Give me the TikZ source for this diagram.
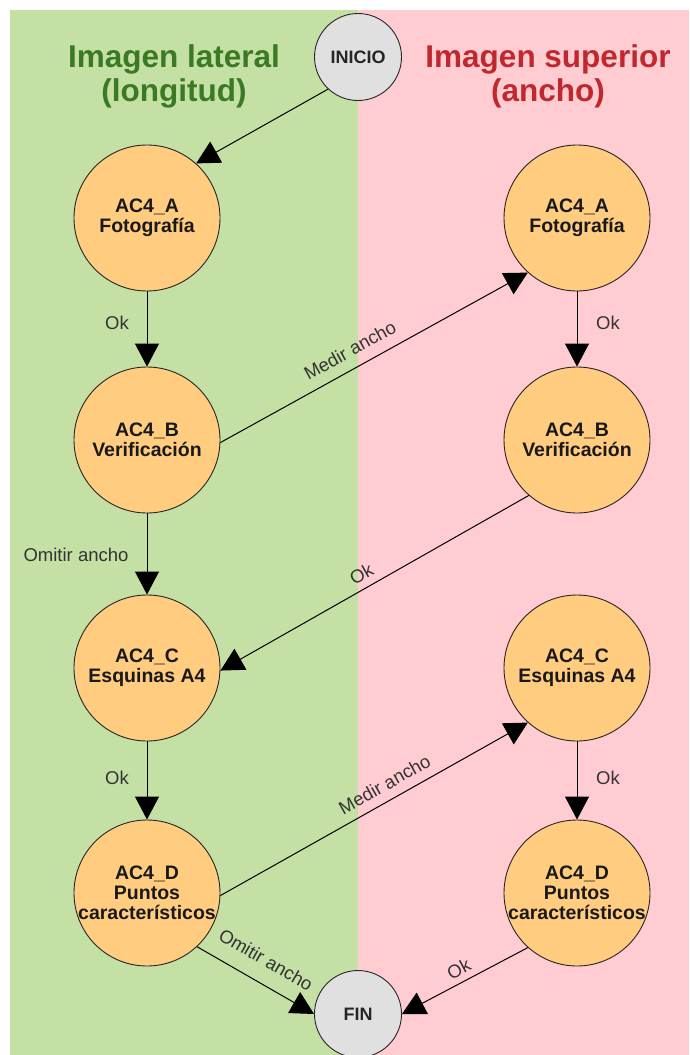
\documentclass[tikz,border=0pt]{standalone}
\usepackage{fontspec}
\setmainfont{Liberation Sans}
\usetikzlibrary{arrows.meta}
\definecolor{lanegreen}{HTML}{C4E0A4}
\definecolor{lanepink}{HTML}{FFCCD2}
\definecolor{stepfill}{HTML}{FFCC80}
\definecolor{termfill}{HTML}{E0E0E0}
\definecolor{titlegreen}{HTML}{3B7A24}
\definecolor{titlered}{HTML}{C0282D}
\definecolor{edgetext}{HTML}{333333}
\begin{document}
\begin{tikzpicture}[x=1pt,y=-1pt,
  stepnode/.style={circle, draw=black!85, line width=0.9pt, fill=stepfill,
    minimum size=146pt, inner sep=0pt},
  termnode/.style={circle, draw=black!85, line width=0.9pt, fill=termfill,
    minimum size=87pt, inner sep=0pt, text=black!85,
    font=\fontsize{18}{20}\selectfont\bfseries},
  steptext/.style={align=center, inner sep=0pt, text=black!90,
    font=\fontsize{19.5}{20}\selectfont\bfseries},
  flow/.style={line width=1pt, draw=black, -{Triangle[length=23pt,width=24pt]}},
  flowlbl/.style={font=\fontsize{18.5}{20}\selectfont, text=edgetext, inner sep=2pt},
  titletext/.style={align=center, font=\fontsize{31.5}{34}\selectfont\bfseries}]

% page and the two lanes
\useasboundingbox (0,0) rectangle (689,1055);
\fill[white] (0,0) rectangle (689,1055);
\fill[lanegreen] (10,10) rectangle (358,1055);
\fill[lanepink] (358,10) rectangle (689,1055);

% lane titles
\node[titletext, text=titlegreen] (tleft) at (174,76) {Imagen lateral\\(longitud)};
\node[titletext, text=titlered] (tright) at (548,76) {Imagen superior\\(ancho)};

% start and end
\node[termnode] (ini) at (358,57) {INICIO};
\node[termnode] (fin) at (358,1014) {FIN};

% left lane steps
\node[stepnode, label={[steptext]center:{AC4\_A\\Fotografía}}] (la) at (147,218) {};
\node[stepnode, label={[steptext]center:{AC4\_B\\Verificación}}] (lb) at (147,440) {};
\node[stepnode, label={[steptext]center:{AC4\_C\\Esquinas A4}}] (lc) at (147,668) {};
\node[stepnode, label={[steptext]center:{AC4\_D\\Puntos\\característicos}}] (ld) at (147,893) {};

% right lane steps
\node[stepnode, label={[steptext]center:{AC4\_A\\Fotografía}}] (ra) at (577,218) {};
\node[stepnode, label={[steptext]center:{AC4\_B\\Verificación}}] (rb) at (577,440) {};
\node[stepnode, label={[steptext]center:{AC4\_C\\Esquinas A4}}] (rc) at (577,668) {};
\node[stepnode, label={[steptext]center:{AC4\_D\\Puntos\\característicos}}] (rd) at (577,893) {};

% connectors
\draw[flow] (ini.227) -- (la.48);
\draw[flow] (la.south) -- node[flowlbl, pos=0.42, xshift=-30pt] (e1) {Ok} (lb.north);
\draw[flow] (lb.south) -- node[flowlbl, pos=0.51, xshift=-71pt] (e2) {Omitir ancho} (lc.north);
\draw[flow] (lc.south) -- node[flowlbl, pos=0.47, xshift=-30pt] (e3) {Ok} (ld.north);
\draw[flow] (ra.south) -- node[flowlbl, pos=0.42, xshift=31pt] (e4) {Ok} (rb.north);
\draw[flow] (rc.south) -- node[flowlbl, pos=0.47, xshift=31pt] (e5) {Ok} (rd.north);
\draw[flow] (lb.-2) -- node[flowlbl, pos=0.45, sloped, above=9pt] (e6) {Medir ancho} (ra.228);
\draw[flow] (rb.229) -- node[flowlbl, pos=0.52, sloped, above=5pt] (e7) {Ok} (lc.-2);
\draw[flow] (ld.-2) -- node[flowlbl, pos=0.56, sloped, above=7pt] (e8) {Medir ancho} (rc.228);
\draw[flow] (ld.-47) -- node[flowlbl, pos=0.49, sloped, above=14pt] (e9) {Omitir ancho} (fin.west);
\draw[flow] (rd.228) -- node[flowlbl, pos=0.5, sloped, above=4pt] (e10) {Ok} (fin.east);
\end{tikzpicture}
\end{document}
